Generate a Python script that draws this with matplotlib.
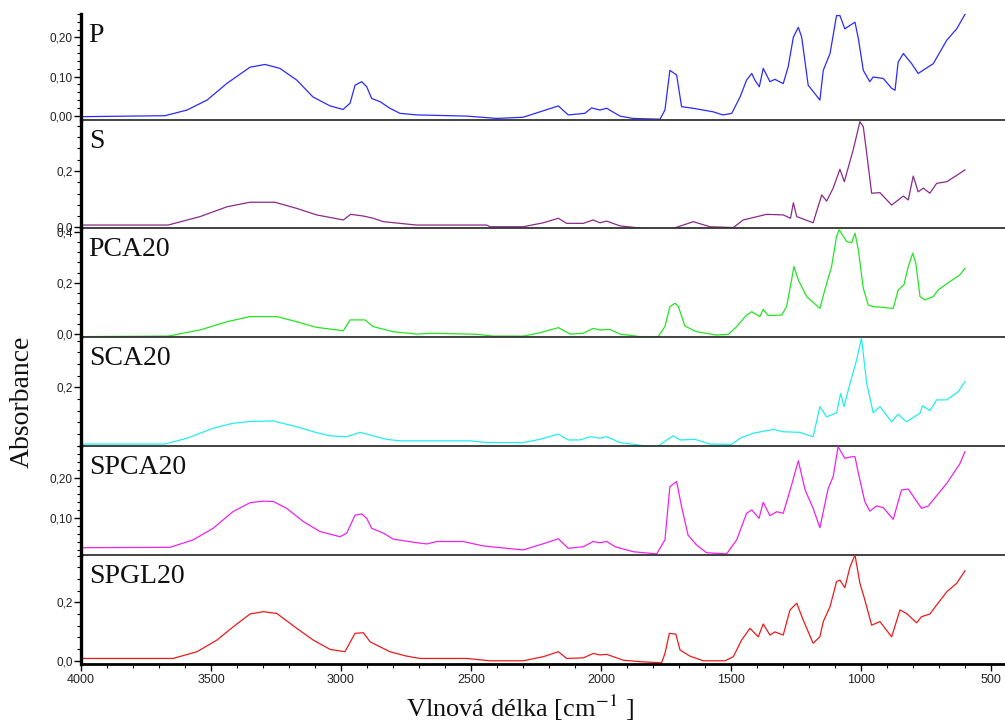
import matplotlib.pyplot as plt
from matplotlib.ticker import MultipleLocator, FixedLocator, FuncFormatter
from matplotlib.transforms import Bbox, TransformedBbox

plt.rcParams['mathtext.fontset'] = 'stix'
plt.rcParams['font.family'] = ['Liberation Sans', 'DejaVu Sans']

# --- data (wavenumber cm-1, absorbance) ---
p_wn = [4000, 3677, 3592, 3515, 3438, 3350, 3292, 3235, 3170, 3108, 3042, 2992, 2965, 2946,
        2920, 2901, 2882, 2850, 2812, 2773, 2709, 2517, 2401, 2300, 2262, 2164, 2126, 2062,
        2036, 2004, 1978, 1927, 1877, 1773, 1754, 1735, 1709, 1690, 1646, 1569, 1531, 1497,
        1465, 1440, 1420, 1408, 1391, 1376, 1350, 1331, 1299, 1280, 1260, 1241, 1228, 1203,
        1158, 1145, 1119, 1094, 1081, 1062, 1042, 1023, 1010, 991, 966, 953, 914, 882, 869,
        857, 837, 805, 780, 722, 670, 632, 600]
p_ab = [-0.0025, 0.0, 0.0145, 0.040, 0.083, 0.124, 0.131, 0.121, 0.091, 0.048, 0.025, 0.016,
        0.032, 0.078, 0.087, 0.074, 0.044, 0.036, 0.019, 0.006, 0.002, -0.001, -0.007, -0.004,
        0.004, 0.025, 0.002, 0.006, 0.020, 0.0145, 0.019, -0.001, -0.007, -0.009, 0.0145,
        0.116, 0.104, 0.023, 0.019, 0.010, 0.002, 0.006, 0.048, 0.091, 0.108, 0.091, 0.074,
        0.121, 0.087, 0.093, 0.082, 0.125, 0.201, 0.226, 0.201, 0.078, 0.040, 0.116, 0.159,
        0.256, 0.256, 0.222, 0.231, 0.239, 0.197, 0.116, 0.087, 0.099, 0.095, 0.070, 0.065,
        0.137, 0.159, 0.133, 0.108, 0.133, 0.193, 0.222, 0.259]

s_wn = [4000, 3665, 3542, 3438, 3350, 3254, 3170, 3094, 2991, 2963, 2914, 2876, 2837, 2773,
        2709, 2440, 2427, 2299, 2222, 2164, 2132, 2068, 2030, 2004, 1978, 1927, 1837, 1722,
        1645, 1581, 1491, 1453, 1363, 1299, 1271, 1260, 1247, 1184, 1151, 1132, 1107, 1081,
        1064, 1030, 1004, 991, 978, 959, 927, 882, 837, 818, 799, 780, 760, 735, 709, 670,
        639, 600]
s_ab = [0.008, 0.008, 0.038, 0.073, 0.089, 0.089, 0.067, 0.044, 0.026, 0.046, 0.040, 0.032,
        0.020, 0.014, 0.008, 0.008, 0.002, 0.002, 0.016, 0.032, 0.014, 0.014, 0.026, 0.016,
        0.022, 0.005, -0.004, -0.004, 0.020, 0.002, -0.001, 0.026, 0.046, 0.044, 0.032,
        0.087, 0.038, 0.016, 0.115, 0.093, 0.139, 0.206, 0.162, 0.275, 0.375, 0.357, 0.263,
        0.121, 0.123, 0.079, 0.111, 0.097, 0.182, 0.126, 0.139, 0.121, 0.156, 0.162, 0.180,
        0.204]

pca_wn = [4000, 3665, 3542, 3438, 3350, 3247, 3170, 3094, 2991, 2965, 2908, 2876, 2799, 2709,
          2645, 2478, 2414, 2299, 2235, 2164, 2119, 2068, 2030, 2004, 1966, 1927, 1850, 1780,
          1754, 1735, 1715, 1703, 1677, 1632, 1555, 1510, 1478, 1440, 1420, 1389, 1376, 1357,
          1305, 1286, 1267, 1258, 1241, 1209, 1158, 1139, 1113, 1094, 1084, 1055, 1036, 1023,
          1010, 991, 972, 953, 876, 857, 835, 818, 801, 789, 773, 754, 722, 703, 658, 620, 600]
pca_ab = [-0.009, -0.007, 0.017, 0.049, 0.069, 0.069, 0.049, 0.027, 0.014, 0.056, 0.056,
          0.030, 0.010, 0.001, 0.004, 0.0, -0.007, -0.007, 0.006, 0.026, 0.001, 0.004, 0.023,
          0.017, 0.019, 0.001, -0.009, -0.009, 0.030, 0.108, 0.121, 0.110, 0.032, 0.010,
          -0.003, 0.0, 0.030, 0.075, 0.088, 0.069, 0.097, 0.073, 0.075, 0.108, 0.212, 0.264,
          0.212, 0.147, 0.101, 0.173, 0.264, 0.381, 0.407, 0.361, 0.357, 0.394, 0.329, 0.179,
          0.114, 0.108, 0.101, 0.173, 0.192, 0.264, 0.316, 0.277, 0.147, 0.134, 0.147, 0.173,
          0.205, 0.231, 0.257]

sca_wn = [4000, 3677, 3592, 3492, 3415, 3350, 3260, 3170, 3094, 3042, 2978, 2927, 2876, 2824,
          2773, 2504, 2440, 2299, 2235, 2164, 2126, 2081, 2042, 2004, 1978, 1927, 1824, 1780,
          1747, 1722, 1696, 1638, 1581, 1497, 1465, 1414, 1337, 1299, 1235, 1184, 1158, 1132,
          1094, 1078, 1065, 1042, 1017, 998, 978, 953, 927, 882, 857, 825, 773, 763, 735, 709,
          670, 626, 600]
sca_ab = [0.006, 0.006, 0.026, 0.060, 0.077, 0.083, 0.085, 0.065, 0.045, 0.034, 0.031, 0.046,
          0.034, 0.022, 0.017, 0.017, 0.011, 0.011, 0.022, 0.040, 0.020, 0.020, 0.031, 0.026,
          0.031, 0.011, -0.001, -0.001, 0.020, 0.034, 0.020, 0.022, 0.006, 0.005, 0.026,
          0.043, 0.056, 0.048, 0.046, 0.031, 0.134, 0.099, 0.113, 0.179, 0.134, 0.214, 0.293,
          0.368, 0.214, 0.113, 0.134, 0.082, 0.108, 0.082, 0.111, 0.137, 0.120, 0.157, 0.157,
          0.185, 0.219]

spca_wn = [4000, 3658, 3569, 3492, 3415, 3350, 3299, 3260, 3209, 3145, 3081, 3004, 2978, 2946,
           2920, 2901, 2882, 2837, 2799, 2709, 2670, 2632, 2530, 2453, 2363, 2299, 2209, 2164,
           2126, 2068, 2030, 2004, 1978, 1946, 1876, 1786, 1754, 1735, 1709, 1690, 1665, 1632,
           1594, 1517, 1478, 1440, 1420, 1392, 1376, 1350, 1324, 1299, 1267, 1241, 1215, 1184,
           1158, 1126, 1107, 1088, 1062, 1036, 1023, 1010, 985, 966, 940, 914, 876, 844, 818,
           767, 741, 670, 620, 600]
spca_ab = [0.0265, 0.0275, 0.046, 0.075, 0.117, 0.139, 0.143, 0.142, 0.125, 0.092, 0.067,
           0.054, 0.063, 0.108, 0.111, 0.100, 0.075, 0.063, 0.048, 0.039, 0.036, 0.042, 0.042,
           0.031, 0.025, 0.021, 0.039, 0.049, 0.025, 0.029, 0.042, 0.039, 0.042, 0.029, 0.0165,
           0.011, 0.046, 0.179, 0.192, 0.129, 0.058, 0.033, 0.014, 0.011, 0.046, 0.1125, 0.121,
           0.100, 0.140, 0.1065, 0.1165, 0.1125, 0.183, 0.244, 0.171, 0.125, 0.0765, 0.175,
           0.204, 0.279, 0.250, 0.254, 0.254, 0.2125, 0.1415, 0.118, 0.131, 0.1265, 0.0975,
           0.171, 0.173, 0.125, 0.131, 0.1875, 0.236, 0.2665]

spgl_wn = [4000, 3646, 3554, 3477, 3415, 3350, 3299, 3247, 3170, 3107, 3042, 2985, 2946, 2914,
           2888, 2812, 2748, 2696, 2517, 2427, 2299, 2222, 2164, 2132, 2068, 2030, 2004, 1978,
           1914, 1850, 1767, 1754, 1737, 1712, 1696, 1658, 1607, 1523, 1491, 1459, 1427, 1395,
           1376, 1350, 1331, 1299, 1273, 1247, 1222, 1184, 1158, 1145, 1119, 1094, 1081, 1062,
           1042, 1023, 1004, 985, 959, 927, 882, 850, 825, 786, 767, 735, 709, 670, 632, 600]
spgl_ab = [0.008, 0.008, 0.031, 0.071, 0.116, 0.160, 0.168, 0.162, 0.111, 0.071, 0.039, 0.031,
           0.094, 0.096, 0.065, 0.031, 0.016, 0.008, 0.008, 0.0, 0.0, 0.014, 0.031, 0.008, 0.010,
           0.025, 0.020, 0.022, 0.002, -0.003, -0.007, 0.025, 0.094, 0.091, 0.037, 0.016, 0.0,
           0.0, 0.014, 0.071, 0.111, 0.082, 0.126, 0.088, 0.099, 0.088, 0.174, 0.197, 0.139,
           0.060, 0.082, 0.134, 0.185, 0.271, 0.276, 0.250, 0.322, 0.362, 0.265, 0.208, 0.122,
           0.134, 0.082, 0.174, 0.162, 0.130, 0.151, 0.160, 0.191, 0.236, 0.265, 0.308]

names = ["P", "S", "PCA20", "SCA20", "SPCA20", "SPGL20"]
spectra = [(p_wn, p_ab), (s_wn, s_ab), (pca_wn, pca_ab), (sca_wn, sca_ab),
           (spca_wn, spca_ab), (spgl_wn, spgl_ab)]
colors = ["#2a2aff", "#8a2a8a", "#22e622", "#22eeee", "#ee22ee", "#ee1a1a"]

# panel layout (pixels from top of a 1005x724 figure)
W, H = 1005, 724
tops = [14, 120, 228, 337, 446, 555]
bottoms = [120, 228, 337, 446, 555, 664]
ylims = [(-0.011, 0.26), (-0.0025, 0.381), (-0.0105, 0.414), (-0.0007, 0.372),
         (0.0083, 0.2808), (-0.011, 0.362)]
steps = [0.1, 0.2, 0.2, 0.2, 0.1, 0.2]
decimals = [2, 1, 1, 1, 2, 1]

fig = plt.figure(figsize=(W / 100, H / 100), dpi=100)
left = 81 / W

axes = []
for i in range(6):
    ax = fig.add_axes([left, 1 - bottoms[i] / H, 1 - left, (bottoms[i] - tops[i]) / H])
    wn, ab = spectra[i]
    ax.plot(wn, ab, color=colors[i], lw=0.9)
    ax.set_xlim(4000, 446)
    ax.set_ylim(*ylims[i])

    for side in ["top", "right"]:
        ax.spines[side].set_visible(False)
    ax.spines["left"].set_linewidth(2.4)
    ax.spines["bottom"].set_linewidth(1.3)
    ax.spines["bottom"].set_color("#333333")

    if names[i] == "SCA20":
        ax.yaxis.set_major_locator(FixedLocator([0.2]))
    else:
        ax.yaxis.set_major_locator(MultipleLocator(steps[i]))
    ax.yaxis.set_minor_locator(MultipleLocator(steps[i] / 5))
    d = decimals[i]
    ax.yaxis.set_major_formatter(FuncFormatter(lambda v, pos, d=d: f"{v:.{d}f}".replace(".", ",")))
    ax.tick_params(axis="y", which="major", direction="out", length=5, width=1,
                   labelsize=8.5, pad=1, labelcolor="#222222")
    ax.tick_params(axis="y", which="minor", direction="out", length=3, width=0.8)

    ax.xaxis.set_major_locator(MultipleLocator(500))
    ax.xaxis.set_minor_locator(MultipleLocator(100))
    if i < 5:
        ax.tick_params(axis="x", which="both", bottom=False, labelbottom=False)
    else:
        ax.spines["bottom"].set_linewidth(2)
        ax.spines["bottom"].set_color("black")
        ax.tick_params(axis="x", which="major", direction="out", length=5, width=1,
                       labelsize=9, labelcolor="#222222", pad=2)
        ax.tick_params(axis="x", which="minor", direction="out", length=3, width=0.8)

    ax.annotate(names[i], xy=(0, 1), xycoords="axes fraction", xytext=(5.5, -20),
                textcoords="offset points", va="baseline", ha="left",
                fontsize=20, family="Liberation Serif", color="#111111")
    ax.patch.set_alpha(0)
    axes.append(ax)

fig.text(22 / W, 1 - 402 / H, "Absorbance", rotation=90, ha="center", va="center",
         fontsize=20, family="Liberation Serif", color="#111111")
fig.text(520 / W, 1 - 708 / H, r"Vlnová délka [cm$^{\mathrm{-1}}$ ]", ha="center",
         va="center", fontsize=19, family="Liberation Serif", color="#111111")

# the top "0,4" label of PCA20 is cut by the panel border, as in the original
fig.canvas.draw()
clip = TransformedBbox(Bbox([[0, 0], [1, 1 - tops[2] / H]]), fig.transFigure)
for lab in axes[2].get_yticklabels():
    if lab.get_text() == "0,4":
        lab.set_clip_box(clip)
        lab.set_clip_on(True)

fig.savefig("out.png", dpi=100)
